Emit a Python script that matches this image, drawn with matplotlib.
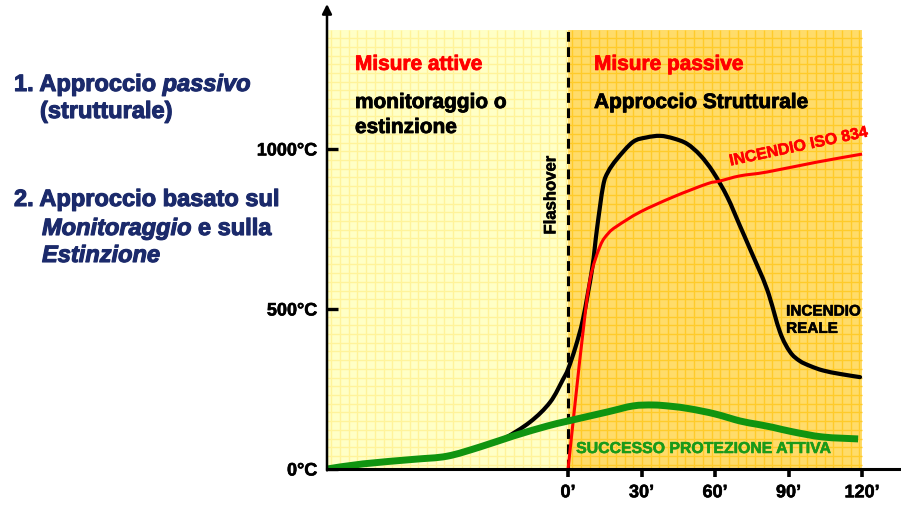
import matplotlib
matplotlib.use("Agg")
import matplotlib.pyplot as plt
import matplotlib.patheffects as pe
import numpy as np
from matplotlib.patches import Rectangle, PathPatch
from matplotlib.path import Path

plt.rcParams['font.family'] = ['Liberation Sans', 'DejaVu Sans']
plt.rcParams['font.weight'] = 'bold'

# time in minutes (0 = flashover), temperature in degC
real_t = [-98.4, -83.7, -63.3, -49.4, -35.9, -26.5, -15.5, -7.3, -2.0, 0.0, 3.0, 6.1, 9.8,
          11.8, 14.3, 16.3, 20.0, 26.5, 32.0, 37.6, 43.0, 48.6, 54.0, 59.2, 65.0, 70.2,
          74.3, 81.2, 86.5, 90.6, 94.5, 98.8, 104.0, 111.0, 119.2]
real_T = [0, 16, 30, 40, 69, 94, 147, 209, 281, 312, 380, 469, 625,
          750, 884, 928, 969, 1022, 1036, 1041, 1033, 1016, 980, 928, 850, 759,
          687, 562, 428, 366, 338, 322, 308, 297, 287]

iso_t = [0.0, 3.0, 6.1, 9.0, 13.1, 16.5, 20.0, 29.4, 42.9, 56.7, 62.0, 70.2, 81.2, 101.6, 120.0]
iso_T = [0, 215, 428, 594, 697, 737, 759, 803, 850, 891, 900, 916, 928, 959, 984]

active_t = [-98.4, -83.7, -63.3, -49.4, -35.9, -22.4, -8.6, 0.0, 15.9, 26.5, 34.7, 42.0,
            49.8, 60.0, 70.2, 77.0, 83.7, 91.8, 104.0, 118.4]
active_T = [0, 16, 30, 40, 69, 103, 134, 150, 178, 197, 200, 196,
            188, 172, 150, 140, 130, 116, 100, 94]

ytick_vals = [0, 500, 1000]
ytick_labels = ['0°C', '500°C', '1000°C']
xtick_vals = [0, 30, 60, 90, 120]
xtick_labels = ['0’', '30’', '60’', '90’', '120’']

navy = '#1b2a6b'
green = '#109410'
red = '#ff0000'


def heavy(color, w=0.6):
    return [pe.withStroke(linewidth=w, foreground=color)]


def smooth_curve(ax, xs, ys, **kw):
    # Catmull-Rom through the points, drawn as cubic Bezier segments
    pts = np.column_stack([xs, ys]).astype(float)
    verts = [pts[0]]
    codes = [Path.MOVETO]
    n = len(pts)
    for i in range(n - 1):
        p0 = pts[i - 1] if i > 0 else pts[i]
        p1, p2 = pts[i], pts[i + 1]
        p3 = pts[i + 2] if i + 2 < n else pts[i + 1]
        verts += [p1 + (p2 - p0) / 6, p2 - (p3 - p1) / 6, p2]
        codes += [Path.CURVE4] * 3
    patch = PathPatch(Path(verts, codes), facecolor='none', **kw)
    ax.add_patch(patch)
    return patch


fig = plt.figure(figsize=(9.01, 5.1), dpi=100)
ax = fig.add_axes([327 / 901, 40 / 510, 574 / 901, 465 / 510])
x0, x1 = -98.4, 135.9
ytop = 1372
ax.set_xlim(x0, x1)
ax.set_ylim(0, 1453)

# shaded backgrounds with a fine grid texture
ax.add_patch(Rectangle((x0, 0), -x0, ytop, facecolor='#ffffc6', edgecolor='none', zorder=0))
ax.add_patch(Rectangle((0, 0), 120, ytop, facecolor='#ffdc6a', edgecolor='none', zorder=0))
gx, gy = 3.55, 27.2
ax.vlines(np.arange(x0 + gx / 2, 0, gx), 0, ytop, color='#fff39a', lw=1.0, zorder=0.5)
ax.hlines(np.arange(gy / 2, ytop, gy), x0, 0, color='#fff39a', lw=1.0, zorder=0.5)
ax.vlines(np.arange(gx / 2, 120, gx), 0, ytop, color='#ffcb2a', lw=1.0, zorder=0.5)
ax.hlines(np.arange(gy / 2, ytop, gy), 0, 120, color='#ffcb2a', lw=1.0, zorder=0.5)

# flashover line
ax.plot([0, 0], [0, ytop], color='black', lw=2.2, dashes=(3.2, 1.8), zorder=1)

smooth_curve(ax, real_t, real_T, edgecolor='black', lw=3.0, capstyle='round', zorder=2)
smooth_curve(ax, iso_t, iso_T, edgecolor=red, lw=2.2, zorder=3)
smooth_curve(ax, active_t, active_T, edgecolor=green, lw=5.0, capstyle='butt', zorder=4)

# axes
for s in ['top', 'right', 'left']:
    ax.spines[s].set_visible(False)
ax.spines['bottom'].set_linewidth(2.2)
ax.spines['bottom'].set_zorder(5)
ax.annotate('', xy=(0, 1.0), xytext=(0, -0.003), xycoords='axes fraction',
            arrowprops=dict(arrowstyle='-|>', lw=1.8, color='black', mutation_scale=14,
                            shrinkA=0, shrinkB=0), zorder=6)

ax.set_yticks(ytick_vals)
ax.set_yticklabels(ytick_labels)
ax.set_xticks(xtick_vals)
ax.set_xticklabels(xtick_labels)
ax.tick_params(axis='y', direction='in', length=8, width=2.4, pad=7, labelsize=13)
ax.tick_params(axis='x', direction='out', length=6, width=2.6, pad=5, labelsize=13)
for lab in ax.get_xticklabels() + ax.get_yticklabels():
    lab.set_path_effects(heavy('black', 0.4))

# chart annotations
xa = -98.4 + 28 * 0.408
xp = 26 * 0.408
ax.text(xa, 1247, 'Misure attive', color=red, fontsize=15, va='baseline', path_effects=heavy(red))
ax.text(xa, 1128, 'monitoraggio o', color='black', fontsize=15, va='baseline', path_effects=heavy('black'))
ax.text(xa, 1050, 'estinzione', color='black', fontsize=15, va='baseline', path_effects=heavy('black'))
ax.text(xp, 1247, 'Misure passive', color=red, fontsize=15, va='baseline', path_effects=heavy(red))
ax.text(xp, 1128, 'Approccio Strutturale', color='black', fontsize=15, va='baseline',
        path_effects=heavy('black'))
ax.text(-7.0, 855, 'Flashover', color='black', fontsize=12, rotation=90, ha='center', va='center',
        path_effects=heavy('black', 0.4))
ax.text(66.3, 948, 'INCENDIO ISO 834', color=red, fontsize=11.5, rotation=12,
        rotation_mode='anchor', va='baseline', path_effects=heavy(red, 0.4))
ax.text(89.0, 465, 'INCENDIO\nREALE', color='black', fontsize=11, va='center', linespacing=1.3,
        path_effects=heavy('black', 0.4))
ax.text(3.3, 50, 'SUCCESSO PROTEZIONE ATTIVA', color='#1a9a1a', fontsize=11.4, va='baseline',
        path_effects=heavy('#1a9a1a', 0.4))

# left side text with mixed regular/italic runs
fig.canvas.draw()
renderer = fig.canvas.get_renderer()


def text_line(x, y, parts):
    for s, style in parts:
        t = fig.text(x / 901, 1 - y / 510, s, fontsize=17, color=navy, style=style,
                     fontweight='bold', va='baseline', ha='left', path_effects=heavy(navy, 0.8))
        bb = t.get_window_extent(renderer)
        x = bb.x1


text_line(14, 92, [('1. Approccio ', 'normal'), ('passivo', 'italic')])
text_line(40, 119, [('(strutturale)', 'normal')])
text_line(14, 207, [('2. Approccio basato sul', 'normal')])
text_line(42, 236, [('Monitoraggio', 'italic'), (' e sulla', 'normal')])
text_line(42, 263, [('Estinzione', 'italic')])

fig.savefig('out.png', dpi=100)
